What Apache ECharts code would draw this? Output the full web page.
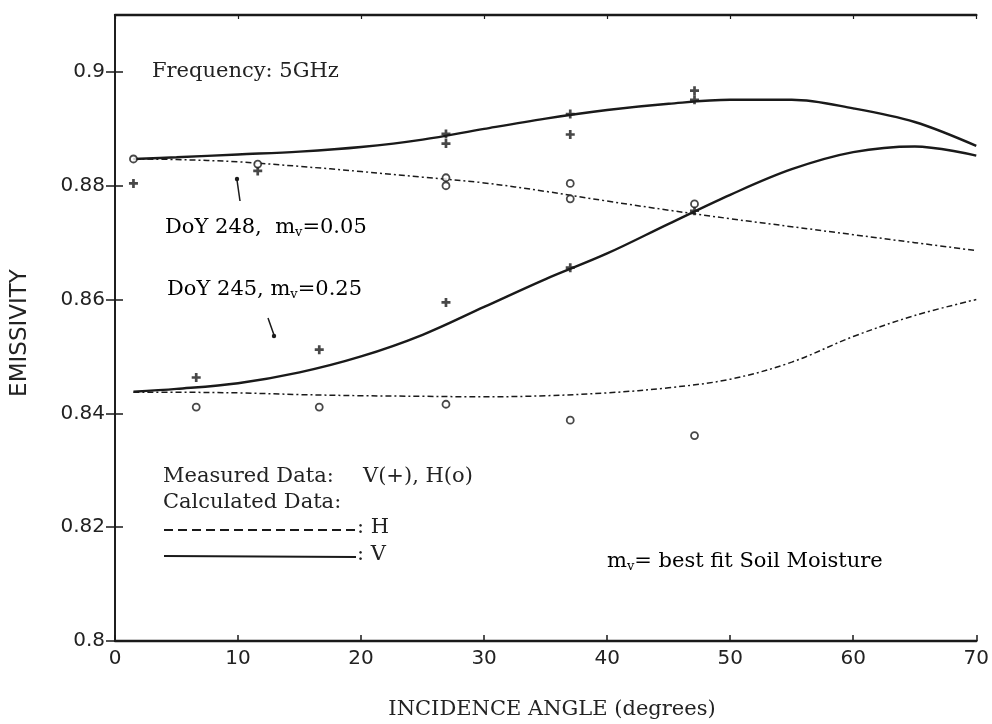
<!DOCTYPE html>
<html>
<head>
<meta charset="utf-8">
<script src="https://cdn.jsdelivr.net/npm/echarts@6/dist/echarts.min.js"></script>
<style>
html,body{margin:0;padding:0;background:#fff;}
#chart{width:992px;height:724px;}
</style>
</head>
<body>
<div id="chart"></div>
<script>
// Calculated curves (incidence angle in degrees)
const calcAngles = [1.5, 5, 10, 15, 20, 25, 30, 35, 40, 45, 50, 55, 60, 65, 70];
const calcV248 = [0.8847, 0.8850, 0.8855, 0.8860, 0.8868, 0.8881, 0.8900, 0.8918, 0.8933, 0.8944, 0.8951, 0.8951, 0.8936, 0.8912, 0.8870];
const calcH248 = [0.8847, 0.8846, 0.8842, 0.8834, 0.8825, 0.8815, 0.8805, 0.8790, 0.8773, 0.8757, 0.8742, 0.8728, 0.8714, 0.8700, 0.8686];
const calcV245 = [0.8438, 0.8443, 0.8453, 0.8472, 0.8500, 0.8538, 0.8587, 0.8636, 0.8681, 0.8733, 0.8784, 0.8829, 0.8859, 0.8869, 0.8853];
const calcH245 = [0.8437, 0.8437, 0.8436, 0.8433, 0.8431, 0.8430, 0.8429, 0.8431, 0.8436, 0.8445, 0.8460, 0.8490, 0.8535, 0.8572, 0.8600];

// Measured data: V (+) and H (o)
const measVAngles = [1.5, 11.6, 26.9, 26.9, 37.0, 37.0, 47.1, 47.1, 6.6, 16.6, 26.9, 37.0, 47.1];
const measVValues = [0.8804, 0.8826, 0.8891, 0.8874, 0.8926, 0.8890, 0.8967, 0.8951, 0.8463, 0.8512, 0.8595, 0.8656, 0.8756];
const measHAngles = [1.5, 11.6, 26.9, 26.9, 37.0, 37.0, 47.1, 6.6, 16.6, 26.9, 37.0, 47.1];
const measHValues = [0.8847, 0.8838, 0.8814, 0.8800, 0.8804, 0.8777, 0.8768, 0.8411, 0.8411, 0.8416, 0.8388, 0.8361];

const xTicks = [0, 10, 20, 30, 40, 50, 60, 70];
const yTicks = [0.8, 0.82, 0.84, 0.86, 0.88, 0.9];

const pair = (xs, ys) => xs.map((x, i) => [x, ys[i]]);
const plusPath = 'path://M3.5,0 L6.5,0 L6.5,3.5 L10,3.5 L10,6.5 L6.5,6.5 L6.5,10 L3.5,10 L3.5,6.5 L0,6.5 L0,3.5 L3.5,3.5 Z';
const ink = '#1a1a1a';
const serif = '"DejaVu Serif", "Liberation Serif", serif';
const sans = '"DejaVu Sans", sans-serif';
const F = '21px ' + serif;
const FS = '13px ' + serif;

const chart = echarts.init(document.getElementById('chart'), null, {renderer: 'canvas'});

const lineSolid = {type: 'solid', width: 2.4, color: ink};
const lineDashDot = {type: [6, 3, 2, 3], width: 1.5, color: ink};

const subRich = {
  a: {font: F, color: '#222'},
  s: {font: FS, color: '#222', padding: [10, 0, 0, 0]}
};

const option = {
  backgroundColor: '#fff',
  animation: false,
  grid: {left: 115, right: 12, top: 15, bottom: 83, containLabel: false},
  xAxis: [
    {
      type: 'value', min: 0, max: 70, interval: 10, position: 'bottom',
      axisLine: {show: true, lineStyle: {color: ink, width: 2.4}},
      axisTick: {show: true, inside: true, length: 6, customValues: xTicks, lineStyle: {color: ink, width: 1.5}},
      axisLabel: {color: '#222', fontFamily: sans, fontSize: 20, margin: 8, customValues: xTicks},
      splitLine: {show: false}
    },
    {
      type: 'value', min: 0, max: 70, interval: 10, position: 'top',
      axisLine: {show: true, lineStyle: {color: ink, width: 2.4}},
      axisTick: {show: true, inside: true, length: 4, customValues: xTicks, lineStyle: {color: ink, width: 1.2}},
      axisLabel: {show: false},
      splitLine: {show: false}
    }
  ],
  yAxis: [
    {
      type: 'value', min: 0.8, max: 0.91, interval: 0.02, position: 'left',
      axisLine: {show: true, lineStyle: {color: ink, width: 1.8}},
      axisTick: {show: true, inside: true, length: 8, customValues: yTicks, lineStyle: {color: ink, width: 1.5}},
      axisLabel: {color: '#222', fontFamily: sans, fontSize: 20, margin: 10, customValues: yTicks,
        formatter: v => String(Math.round(v * 100) / 100)},
      splitLine: {show: false}
    },
    {
      type: 'value', min: 0.8, max: 0.91, interval: 0.02, position: 'right',
      axisLine: {show: true, lineStyle: {color: ink, width: 1.5}},
      axisTick: {show: true, inside: true, length: 9, customValues: yTicks, lineStyle: {color: ink, width: 1.5}},
      axisLabel: {show: false},
      splitLine: {show: false}
    }
  ],
  series: [
    {name: 'V calc DoY 248', type: 'line', data: pair(calcAngles, calcV248), smooth: 0.35,
      showSymbol: false, lineStyle: lineSolid, z: 3},
    {name: 'H calc DoY 248', type: 'line', data: pair(calcAngles, calcH248), smooth: 0.35,
      showSymbol: false, lineStyle: lineDashDot, z: 3},
    {name: 'V calc DoY 245', type: 'line', data: pair(calcAngles, calcV245), smooth: 0.35,
      showSymbol: false, lineStyle: lineSolid, z: 3},
    {name: 'H calc DoY 245', type: 'line', data: pair(calcAngles, calcH245), smooth: 0.35,
      showSymbol: false, lineStyle: lineDashDot, z: 3},
    {name: 'V measured', type: 'scatter', data: pair(measVAngles, measVValues),
      symbol: plusPath, symbolSize: 9, itemStyle: {color: ink}, z: 4},
    {name: 'H measured', type: 'scatter', data: pair(measHAngles, measHValues),
      symbol: 'circle', symbolSize: 7, itemStyle: {color: '#fff', borderColor: ink, borderWidth: 1.8}, z: 4}
  ],
  graphic: [
    {type: 'text', x: 152, y: 72, style: {text: 'Frequency: 5GHz', font: F, fill: '#222', align: 'left', verticalAlign: 'middle'}},
    {type: 'text', x: 165, y: 228, style: {text: '{a|DoY 248,  m}{s|v}{a|=0.05}', rich: subRich, align: 'left', verticalAlign: 'middle'}},
    {type: 'text', x: 167, y: 290, style: {text: '{a|DoY 245, m}{s|v}{a|=0.25}', rich: subRich, align: 'left', verticalAlign: 'middle'}},
    {type: 'line', shape: {x1: 237, y1: 180, x2: 240, y2: 201}, style: {stroke: ink, lineWidth: 1.5}},
    {type: 'circle', shape: {cx: 237, cy: 179, r: 2.2}, style: {fill: ink}},
    {type: 'line', shape: {x1: 268, y1: 318, x2: 274, y2: 335}, style: {stroke: ink, lineWidth: 1.5}},
    {type: 'circle', shape: {cx: 274, cy: 336, r: 2.2}, style: {fill: ink}},

    {type: 'text', x: 163, y: 477, style: {text: 'Measured Data:', font: F, fill: '#222', align: 'left', verticalAlign: 'middle'}},
    {type: 'text', x: 363, y: 477, style: {text: 'V(+), H(o)', font: F, fill: '#222', align: 'left', verticalAlign: 'middle'}},
    {type: 'text', x: 163, y: 503, style: {text: 'Calculated Data:', font: F, fill: '#222', align: 'left', verticalAlign: 'middle'}},
    {type: 'line', shape: {x1: 164, y1: 530, x2: 356, y2: 530}, style: {stroke: ink, lineWidth: 2, lineDash: [9, 5]}},
    {type: 'text', x: 357, y: 528, style: {text: ': H', font: F, fill: '#222', align: 'left', verticalAlign: 'middle'}},
    {type: 'line', shape: {x1: 164, y1: 556, x2: 356, y2: 557}, style: {stroke: ink, lineWidth: 2.2}},
    {type: 'text', x: 357, y: 555, style: {text: ': V', font: F, fill: '#222', align: 'left', verticalAlign: 'middle'}},

    {type: 'text', x: 607, y: 562, style: {text: '{a|m}{s|v}{a|= best fit Soil Moisture}', rich: subRich, align: 'left', verticalAlign: 'middle'}},

    {type: 'text', x: 20, y: 333, rotation: Math.PI / 2, style: {text: 'EMISSIVITY', font: '23px ' + sans, fill: '#222', align: 'center', verticalAlign: 'middle'}},
    {type: 'text', x: 552, y: 710, style: {text: 'INCIDENCE ANGLE (degrees)', font: F, fill: '#222', align: 'center', verticalAlign: 'middle'}}
  ]
};

chart.setOption(option);
</script>
</body>
</html>
